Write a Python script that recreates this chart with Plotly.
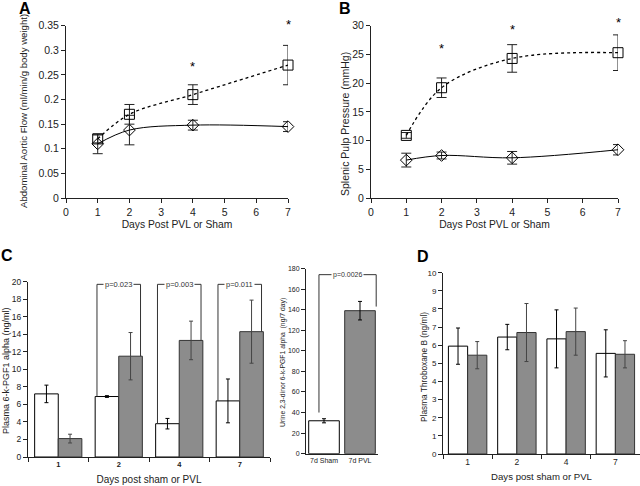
import plotly.graph_objects as go

# ---------------- data ----------------
days = [1, 2, 4, 7]
# Panel A: abdominal aortic flow
a_sham = [0.110, 0.138, 0.148, 0.145]
a_sham_err = [0.020, 0.030, 0.010, 0.010]
a_pvl = [0.120, 0.170, 0.210, 0.270]
a_pvl_err = [0.008, 0.020, 0.020, 0.040]
a_star_days = [4, 7]
a_star_y = [0.268, 0.352]
# Panel B: splenic pulp pressure
b_sham = [6.6, 7.4, 7.0, 8.4]
b_sham_err = [1.2, 0.6, 1.1, 0.9]
b_pvl = [10.9, 19.2, 24.3, 25.3]
b_pvl_err = [0.5, 1.7, 2.4, 3.1]
b_star_days = [2, 4, 7]
b_star_y = [26.0, 29.3, 30.5]
# Panel C: plasma 6-k-PGF1 alpha
c_cats = ["1", "2", "4", "7"]
c_sham = [7.2, 6.9, 3.8, 6.4]
c_sham_err = [1.0, 0.1, 0.6, 2.5]
c_pvl = [2.1, 11.5, 13.3, 14.3]
c_pvl_err = [0.5, 2.7, 2.2, 3.6]
c_p_idx = [1, 2, 3]
c_p_labels = ["p=0.023", "p=0.003", "p=0.011"]
# Urine inset
u_cats = ["7d Sham", "7d PVL"]
u_vals = [32, 139]
u_err = [2, 9]
u_p_label = "p=0.0026"
# Panel D: plasma thromboxane B
d_cats = ["1", "2", "4", "7"]
d_sham = [5.95, 6.45, 6.35, 5.55]
d_sham_err = [1.0, 0.7, 1.6, 1.3]
d_pvl = [5.45, 6.7, 6.75, 5.5]
d_pvl_err = [0.75, 1.6, 1.3, 0.75]

# axis titles
a_ytitle = "Abdominal Aortic Flow (ml/min/g body weight)"
b_ytitle = "Splenic Pulp Pressure (mmHg)"
ab_xtitle = "Days Post PVL or Sham"
c_ytitle = "Plasma 6-k-PGF1 alpha (ng/ml)"
u_ytitle = "Urine 2,3-dinor 6-k-PGF1 alpha  (ng/7 day)"
d_ytitle = "Plasma Throboxane B (ng/ml)"
cd_xtitle = "Days post sham or PVL"

FONT = "Liberation Sans, Arial, sans-serif"
AX = "#222222"
GRAY = "#8c8c8c"
H = 486.0
W = 640.0

def px_x(a, b):
    return [a / W, b / W]

def px_y(top, bottom):
    return [1 - bottom / H, 1 - top / H]

A_XDOM, A_YDOM, A_XR, A_YR = px_x(66, 288), px_y(25.7, 198), [0, 7], [0, 0.35]
B_XDOM, B_YDOM, B_XR, B_YR = px_x(371, 618), px_y(25.7, 198), [0, 7], [0, 30]

def to_paper(v, dom, rng):
    return dom[0] + (v - rng[0]) / (rng[1] - rng[0]) * (dom[1] - dom[0])

fig = go.Figure()

# ---- Panel A ----
fig.add_trace(go.Scatter(x=days, y=a_sham, mode="lines+markers", line=dict(color="black", width=1, shape="spline"),
                         marker=dict(symbol="diamond-open", size=9, color="black", line=dict(width=1)),
                         error_y=dict(type="data", array=a_sham_err, color=AX, thickness=1, width=5),
                         cliponaxis=False, xaxis="x", yaxis="y", showlegend=False))
fig.add_trace(go.Scatter(x=days, y=a_pvl, mode="lines+markers", line=dict(color="black", width=1.3, dash="dot", shape="spline"),
                         marker=dict(symbol="square-open", size=10, color="black", line=dict(width=1)),
                         error_y=dict(type="data", array=a_pvl_err, color=AX, thickness=1, width=5),
                         cliponaxis=False, xaxis="x", yaxis="y", showlegend=False))

# ---- Panel B ----
fig.add_trace(go.Scatter(x=days, y=b_sham, mode="lines+markers", line=dict(color="black", width=1, shape="spline"),
                         marker=dict(symbol="diamond-open", size=9, color="black", line=dict(width=1)),
                         error_y=dict(type="data", array=b_sham_err, color=AX, thickness=1, width=5),
                         cliponaxis=False, xaxis="x2", yaxis="y2", showlegend=False))
fig.add_trace(go.Scatter(x=days, y=b_pvl, mode="lines+markers", line=dict(color="black", width=1.3, dash="dot", shape="spline"),
                         marker=dict(symbol="square-open", size=10, color="black", line=dict(width=1)),
                         error_y=dict(type="data", array=b_pvl_err, color=AX, thickness=1, width=5),
                         cliponaxis=False, xaxis="x2", yaxis="y2", showlegend=False))

# ---- Panel C ----
fig.add_trace(go.Bar(x=c_cats, y=c_sham, marker=dict(color="white", line=dict(color="black", width=1)),
                     error_y=dict(type="data", array=c_sham_err, color="black", thickness=1, width=2),
                     xaxis="x3", yaxis="y3", showlegend=False, offsetgroup="s"))
fig.add_trace(go.Bar(x=c_cats, y=c_pvl, marker=dict(color=GRAY, line=dict(color="#333333", width=1)),
                     error_y=dict(type="data", array=c_pvl_err, color="#444444", thickness=1, width=2),
                     xaxis="x3", yaxis="y3", showlegend=False, offsetgroup="p"))

# ---- Urine inset ----
fig.add_trace(go.Bar(x=u_cats, y=u_vals, marker=dict(color=["white", GRAY], line=dict(color=["black", "#333333"], width=1)),
                     error_y=dict(type="data", array=u_err, color="black", thickness=1, width=2),
                     width=0.85, xaxis="x4", yaxis="y4", showlegend=False))

# ---- Panel D ----
fig.add_trace(go.Bar(x=d_cats, y=d_sham, marker=dict(color="white", line=dict(color="black", width=1)),
                     error_y=dict(type="data", array=d_sham_err, color="black", thickness=1, width=2),
                     xaxis="x5", yaxis="y5", showlegend=False, offsetgroup="s"))
fig.add_trace(go.Bar(x=d_cats, y=d_pvl, marker=dict(color=GRAY, line=dict(color="#333333", width=1)),
                     error_y=dict(type="data", array=d_pvl_err, color="#444444", thickness=1, width=2),
                     xaxis="x5", yaxis="y5", showlegend=False, offsetgroup="p"))

shapes = []
annotations = []
# significance asterisks (mapped from data values through the axis scale)
for xs, ys, xd, yd, xr, yr in [(a_star_days, a_star_y, A_XDOM, A_YDOM, A_XR, A_YR),
                               (b_star_days, b_star_y, B_XDOM, B_YDOM, B_XR, B_YR)]:
    for xv, yv in zip(xs, ys):
        annotations.append(dict(xref="paper", yref="paper", x=to_paper(xv, xd, xr), y=to_paper(yv, yd, yr),
                                text="*", showarrow=False,
                                font=dict(size=13, family=FONT, color="black"), xanchor="center", yanchor="middle"))
# C brackets
c_top = 19.7
for i, lab in zip(c_p_idx, c_p_labels):
    xl, xr = i - 0.36, i + 0.36
    shapes.append(dict(type="line", xref="x3", yref="y3", x0=xl, x1=xl, y0=c_sham[i], y1=c_top, line=dict(color="#333333", width=1)))
    shapes.append(dict(type="line", xref="x3", yref="y3", x0=xr, x1=xr, y0=c_pvl[i], y1=c_top, line=dict(color="#333333", width=1)))
    shapes.append(dict(type="line", xref="x3", yref="y3", x0=xl, x1=xr, y0=c_top, y1=c_top, line=dict(color="#333333", width=1)))
    annotations.append(dict(xref="x3", yref="y3", x=i, y=c_top, text=lab, showarrow=False, bgcolor="white",
                            font=dict(size=7.5, family=FONT, color="#333333"), borderpad=1))
# urine bracket
u_top = 174
shapes.append(dict(type="line", xref="x4", yref="y4", x0=-0.14, x1=-0.14, y0=u_vals[0] + u_err[0] + 6, y1=u_top, line=dict(color="#333333", width=1)))
shapes.append(dict(type="line", xref="x4", yref="y4", x0=1.45, x1=1.45, y0=u_vals[1] + 4, y1=u_top, line=dict(color="#333333", width=1)))
shapes.append(dict(type="line", xref="x4", yref="y4", x0=-0.14, x1=1.45, y0=u_top, y1=u_top, line=dict(color="#333333", width=1)))
annotations.append(dict(xref="x4", yref="y4", x=0.65, y=u_top, text=u_p_label, showarrow=False, bgcolor="white",
                        font=dict(size=7, family=FONT, color="#333333"), borderpad=1))

# panel letters
for lab, x, y in [("A", 25, 8), ("B", 345, 8), ("C", 7, 255), ("D", 423, 256)]:
    annotations.append(dict(xref="paper", yref="paper", x=x / W, y=1 - y / H, text="<b>%s</b>" % lab, showarrow=False,
                            font=dict(size=16, family=FONT, color="black"), xanchor="center", yanchor="middle"))

# y-axis titles placed as rotated text
for txt, x, y, sz in [(a_ytitle, 23, 111, 9.6), (b_ytitle, 345, 124, 10.5), (c_ytitle, 6, 371, 9),
                      (u_ytitle, 283, 363, 6.8), (d_ytitle, 424, 367, 8.3)]:
    annotations.append(dict(xref="paper", yref="paper", x=x / W, y=1 - y / H, text=txt, showarrow=False, textangle=-90,
                            font=dict(size=sz, family=FONT, color="#222222"), xanchor="center", yanchor="middle"))

common = dict(showline=True, linecolor=AX, linewidth=1, ticks="outside", ticklen=4, tickcolor=AX,
              showgrid=False, zeroline=False, fixedrange=True, automargin=False)
tf = dict(family=FONT, color="#222222")

fig.update_layout(
    width=640, height=486, margin=dict(l=0, r=0, t=0, b=0, autoexpand=False),
    paper_bgcolor="white", plot_bgcolor="white",
    barmode="group", bargap=0.22, bargroupgap=0,
    font=dict(family=FONT, color="#222222"),
    shapes=shapes, annotations=annotations,
    xaxis=dict(domain=A_XDOM, range=A_XR, dtick=1, anchor="y", tickfont=dict(size=10.5, **tf),
               title=dict(text=ab_xtitle, font=dict(size=10.3, **tf), standoff=4), **common),
    yaxis=dict(domain=A_YDOM, range=A_YR, dtick=0.05, anchor="x", tickfont=dict(size=10.5, **tf), **common),
    xaxis2=dict(domain=B_XDOM, range=B_XR, dtick=1, anchor="y2", tickfont=dict(size=10.5, **tf),
                title=dict(text=ab_xtitle, font=dict(size=10.3, **tf), standoff=4), **common),
    yaxis2=dict(domain=B_YDOM, range=B_YR, dtick=5, anchor="x2", tickfont=dict(size=10.5, **tf), **common),
    xaxis3=dict(domain=px_x(28, 270), range=[-0.5, 3.5], type="category", anchor="y3", tickson="boundaries",
                tickfont=dict(size=7.5, family=FONT, color="#222222", weight="bold"),
                title=dict(text=cd_xtitle, font=dict(size=10, **tf), standoff=7), **common),
    yaxis3=dict(domain=px_y(281.7, 457), range=[0, 20], dtick=2, anchor="x3", tickfont=dict(size=8.5, **tf), **common),
    xaxis4=dict(domain=px_x(306, 378), range=[-0.5, 1.5], type="category", anchor="y4", ticks="",
                tickfont=dict(size=7, **tf), showline=True, linecolor=AX, linewidth=1, showgrid=False,
                zeroline=False, automargin=False),
    yaxis4=dict(domain=px_y(268.5, 453.7), range=[0, 180], dtick=20, anchor="x4", tickfont=dict(size=7, **tf), **common),
    xaxis5=dict(domain=px_x(443, 640), range=[-0.5, 3.5], type="category", anchor="y5", tickson="boundaries",
                tickfont=dict(size=8.5, **tf),
                title=dict(text=cd_xtitle, font=dict(size=9.6, **tf), standoff=7), **common),
    yaxis5=dict(domain=px_y(272.7, 454), range=[0, 10], dtick=1, anchor="x5", tickfont=dict(size=8, **tf), **common),
)

fig.write_html("out.html", post_script="document.body.style.margin='0';", config={"displayModeBar": False})
